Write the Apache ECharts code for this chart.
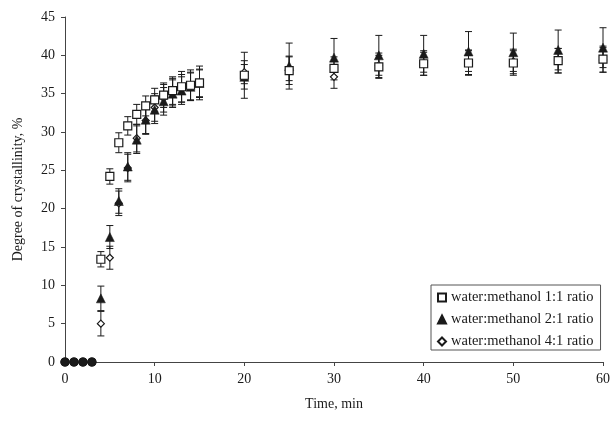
<!DOCTYPE html>
<html>
<head>
<meta charset="utf-8">
<script src="https://cdn.jsdelivr.net/npm/echarts@6/dist/echarts.min.js"></script>
<style>
  html, body { margin: 0; padding: 0; background: #fff; }
  #chart { width: 613px; height: 422px; }
</style>
</head>
<body>
<div id="chart"></div>
<script>
// Sampling times, min
const times = [0, 1, 2, 3, 4, 5, 6, 7, 8, 9, 10, 11, 12, 13, 14, 15, 20, 25, 30, 35, 40, 45, 50, 55, 60];

// Degree of crystallinity, % (mean values)
const ratio11 = [0, 0, 0, 0, 13.4, 24.2, 28.6, 30.8, 32.3, 33.4, 34.2, 34.8, 35.4, 35.9, 36.1, 36.4, 37.4, 38.0, 38.3, 38.5, 38.9, 39.0, 39.0, 39.3, 39.5];
const ratio21 = [0, 0, 0, 0, 8.3, 16.3, 21.0, 25.5, 29.0, 31.6, 32.9, 34.0, 35.0, 35.4, 35.9, 36.4, 37.2, 38.6, 39.7, 40.0, 40.2, 40.5, 40.4, 40.7, 41.0];
const ratio41 = [0, 0, 0, 0, 5.0, 13.6, 20.7, 25.3, 29.2, 31.5, 33.2, 34.4, 35.2, 35.7, 36.0, 36.3, 37.8, 38.3, 37.2, 38.7, 39.0, 39.1, 39.2, 39.3, 39.4];

// Standard deviations
const err11 = [0, 0, 0, 0, 1.0, 1.0, 1.3, 1.2, 1.3, 1.3, 1.5, 1.6, 1.8, 2.0, 2.0, 2.2, 3.0, 1.8, 1.5, 1.5, 1.5, 1.6, 1.6, 1.6, 1.7];
const err21 = [0, 0, 0, 0, 1.6, 1.5, 1.6, 1.8, 1.8, 1.8, 1.8, 1.8, 1.8, 1.8, 1.8, 1.8, 1.6, 3.0, 2.5, 2.6, 2.4, 2.6, 2.5, 2.6, 2.6];
const err41 = [0, 0, 0, 0, 1.6, 1.5, 1.6, 1.8, 1.8, 1.8, 1.8, 1.8, 1.8, 1.8, 1.8, 1.8, 1.5, 1.6, 1.5, 1.6, 1.6, 1.6, 1.6, 1.6, 1.6];

const names = ['water:methanol 1:1 ratio', 'water:methanol 2:1 ratio', 'water:methanol 4:1 ratio'];
const xTicks = [0, 10, 20, 30, 40, 50, 60];
const yTicks = [0, 5, 10, 15, 20, 25, 30, 35, 40, 45];

const font = '"Liberation Serif", "Times New Roman", serif';
const ink = '#1a1a1a';

// Zero readings of all series overlap, so they are drawn as solid dots
function points(vals) {
  return times.map((t, i) => vals[i] === 0
    ? { value: [t, 0], symbol: 'circle', symbolSize: 8, itemStyle: { color: ink, borderColor: ink } }
    : [t, vals[i]]);
}
function bars(vals, errs) {
  return times.map((t, i) => [t, vals[i], errs[i]]);
}

// Vertical error bar with caps, drawn in data coordinates
function errorBar(params, api) {
  const x = api.value(0), v = api.value(1), e = api.value(2);
  if (!e) return null;
  const hi = api.coord([x, v + e]);
  const lo = api.coord([x, v - e]);
  const w = 3.5;
  const style = { stroke: ink, lineWidth: 1 };
  return {
    type: 'group',
    children: [
      { type: 'line', shape: { x1: hi[0], y1: hi[1], x2: lo[0], y2: lo[1] }, style },
      { type: 'line', shape: { x1: hi[0] - w, y1: hi[1], x2: hi[0] + w, y2: hi[1] }, style },
      { type: 'line', shape: { x1: lo[0] - w, y1: lo[1], x2: lo[0] + w, y2: lo[1] }, style }
    ]
  };
}

const chart = echarts.init(document.getElementById('chart'), null, { renderer: 'canvas' });

chart.setOption({
  animation: false,
  backgroundColor: '#fff',
  grid: { left: 65, right: 10, top: 17, bottom: 60, containLabel: false },
  legend: {
    data: names,
    orient: 'vertical',
    left: 431,
    top: 285,
    itemWidth: 8,
    itemHeight: 8,
    itemGap: 7,
    padding: [5, 7, 1, 6],
    borderColor: '#555',
    borderWidth: 1,
    backgroundColor: '#fff',
    textStyle: { fontFamily: font, fontSize: 14.5, color: ink }
  },
  xAxis: {
    type: 'value',
    min: 0, max: 60, interval: 10,
    name: 'Time, min',
    nameLocation: 'middle',
    nameGap: 35,
    nameTextStyle: { fontFamily: font, fontSize: 14, color: ink },
    axisLine: { lineStyle: { color: '#444' } },
    axisTick: { inside: false, length: 4, lineStyle: { color: '#444' } },
    axisLabel: {
      fontFamily: font, fontSize: 14, color: ink, margin: 10,
      formatter: v => (xTicks.includes(v) ? String(v) : '')
    },
    splitLine: { show: false }
  },
  yAxis: {
    type: 'value',
    min: 0, max: 45, interval: 5,
    name: 'Degree of crystallinity, %',
    nameLocation: 'middle',
    nameGap: 40,
    nameTextStyle: { fontFamily: font, fontSize: 14, color: ink },
    axisLine: { show: true, lineStyle: { color: '#444' } },
    axisTick: { show: true, inside: false, length: 4, lineStyle: { color: '#444' } },
    axisLabel: {
      fontFamily: font, fontSize: 14, color: ink, margin: 10,
      formatter: v => (yTicks.includes(v) ? String(v) : '')
    },
    splitLine: { show: false }
  },
  series: [
    { name: 'err41', type: 'custom', renderItem: errorBar, data: bars(ratio41, err41), z: 1, silent: true },
    { name: 'err21', type: 'custom', renderItem: errorBar, data: bars(ratio21, err21), z: 1, silent: true },
    { name: 'err11', type: 'custom', renderItem: errorBar, data: bars(ratio11, err11), z: 1, silent: true },
    {
      name: names[2], type: 'scatter', data: points(ratio41),
      symbol: 'diamond', symbolSize: 7, z: 3,
      itemStyle: { color: '#fff', borderColor: ink, borderWidth: 1.2, opacity: 1 }
    },
    {
      name: names[1], type: 'scatter', data: points(ratio21),
      symbol: 'triangle', symbolSize: 9, z: 4,
      itemStyle: { color: ink, borderColor: ink, borderWidth: 0.5, opacity: 1 }
    },
    {
      name: names[0], type: 'scatter', data: points(ratio11),
      symbol: 'rect', symbolSize: 8, z: 5,
      itemStyle: { color: '#fff', borderColor: ink, borderWidth: 1.2, opacity: 1 }
    }
  ]
});
</script>
</body>
</html>
